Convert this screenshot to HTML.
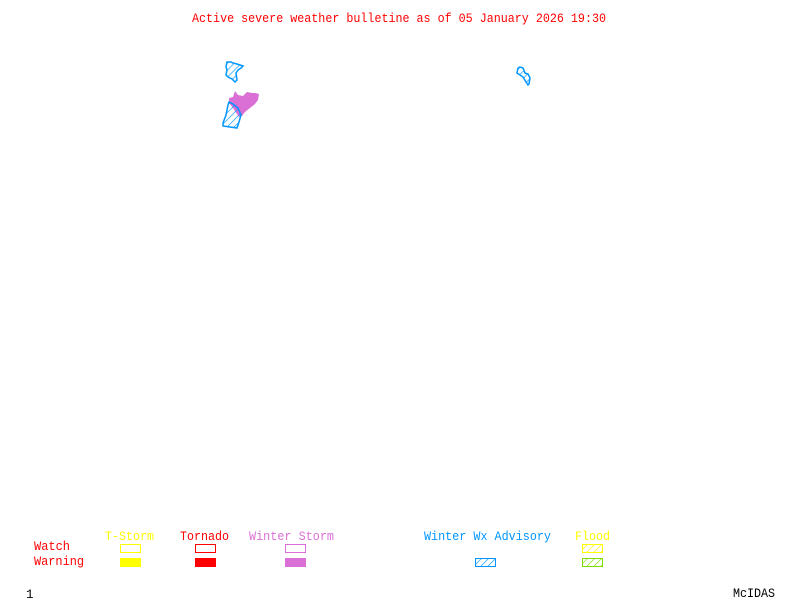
<!DOCTYPE html>
<html><head><meta charset="utf-8"><style>
html,body{margin:0;padding:0;background:#fff;}
svg{display:block;}
text{font-family:"Liberation Mono",monospace;font-size:12.5px;}
</style></head><body>
<svg width="800" height="600" viewBox="0 0 800 600" xmlns="http://www.w3.org/2000/svg">
<defs>
<pattern id="hb" width="5" height="5" patternUnits="userSpaceOnUse" patternTransform="rotate(45)">
<line x1="0" y1="0" x2="0" y2="5" stroke="#0096ff" stroke-width="1.3"/></pattern>
<pattern id="hy" width="5" height="5" patternUnits="userSpaceOnUse" patternTransform="rotate(45)">
<line x1="0" y1="0" x2="0" y2="5" stroke="#ffff00" stroke-width="1.3"/></pattern>
<pattern id="hg" width="5" height="5" patternUnits="userSpaceOnUse" patternTransform="rotate(45)">
<line x1="0" y1="0" x2="0" y2="5" stroke="#80dd00" stroke-width="1.3"/></pattern>
</defs>
<text x="192" y="22" fill="#ff0000" textLength="414" lengthAdjust="spacingAndGlyphs">Active severe weather bulletine as of 05 January 2026 19:30</text>

<!-- shapes -->
<polygon points="227,62 231,62 233,63 237,64 243,66 241,68 238,70 236,73 237,80 235,82 232,79 228,77 226,75 227,70 226,67" fill="url(#hb)" stroke="#0096ff" stroke-width="1.5"/>
<polygon points="229,98 233,97 235,91 238,95 243,96 247,92 252,93 255,93 259,94 258,100 255,104 250,108 245,112 242,116 239,117 233,108 229,103" fill="#da70d6"/>
<polygon points="229,102 233,104 238,108 241,115 239,122 237,128 223,126 223,123 226,115 228,105" fill="url(#hb)" stroke="#0096ff" stroke-width="1.5"/>
<polygon points="518,68 520,67 523,68 525,73 528,74 530,78 529,84 528,85 526,82 523,77 520,75 517,73" fill="url(#hb)" stroke="#0096ff" stroke-width="1.5"/>

<!-- legend -->
<text x="105" y="540" fill="#ffff00" textLength="49" lengthAdjust="spacingAndGlyphs">T-Storm</text>
<text x="180" y="540" fill="#ff0000" textLength="49" lengthAdjust="spacingAndGlyphs">Tornado</text>
<text x="249" y="540" fill="#da70d6" textLength="85" lengthAdjust="spacingAndGlyphs">Winter Storm</text>
<text x="424" y="540" fill="#0096ff" textLength="127" lengthAdjust="spacingAndGlyphs">Winter Wx Advisory</text>
<text x="575" y="540" fill="#ffff00" textLength="35" lengthAdjust="spacingAndGlyphs">Flood</text>
<text x="34" y="550" fill="#ff0000" textLength="36" lengthAdjust="spacingAndGlyphs">Watch</text>
<text x="34" y="565" fill="#ff0000" textLength="50" lengthAdjust="spacingAndGlyphs">Warning</text>

<rect x="120.5" y="544.5" width="20" height="8" fill="none" stroke="#ffff00"/>
<rect x="120" y="558" width="21" height="9" fill="#ffff00"/>
<rect x="195.5" y="544.5" width="20" height="8" fill="none" stroke="#ff0000"/>
<rect x="195" y="558" width="21" height="9" fill="#ff0000"/>
<rect x="285.5" y="544.5" width="20" height="8" fill="none" stroke="#da70d6"/>
<rect x="285" y="558" width="21" height="9" fill="#da70d6"/>
<rect x="475.5" y="558.5" width="20" height="8" fill="url(#hb)" stroke="#0096ff"/>
<rect x="582.5" y="544.5" width="20" height="8" fill="url(#hy)" stroke="#ffff00"/>
<rect x="582.5" y="558.5" width="20" height="8" fill="url(#hg)" stroke="#80dd00"/>

<text x="26" y="598" fill="#000">1</text>
<text x="733" y="597" fill="#000" textLength="42" lengthAdjust="spacingAndGlyphs">McIDAS</text>
</svg>
</body></html>
